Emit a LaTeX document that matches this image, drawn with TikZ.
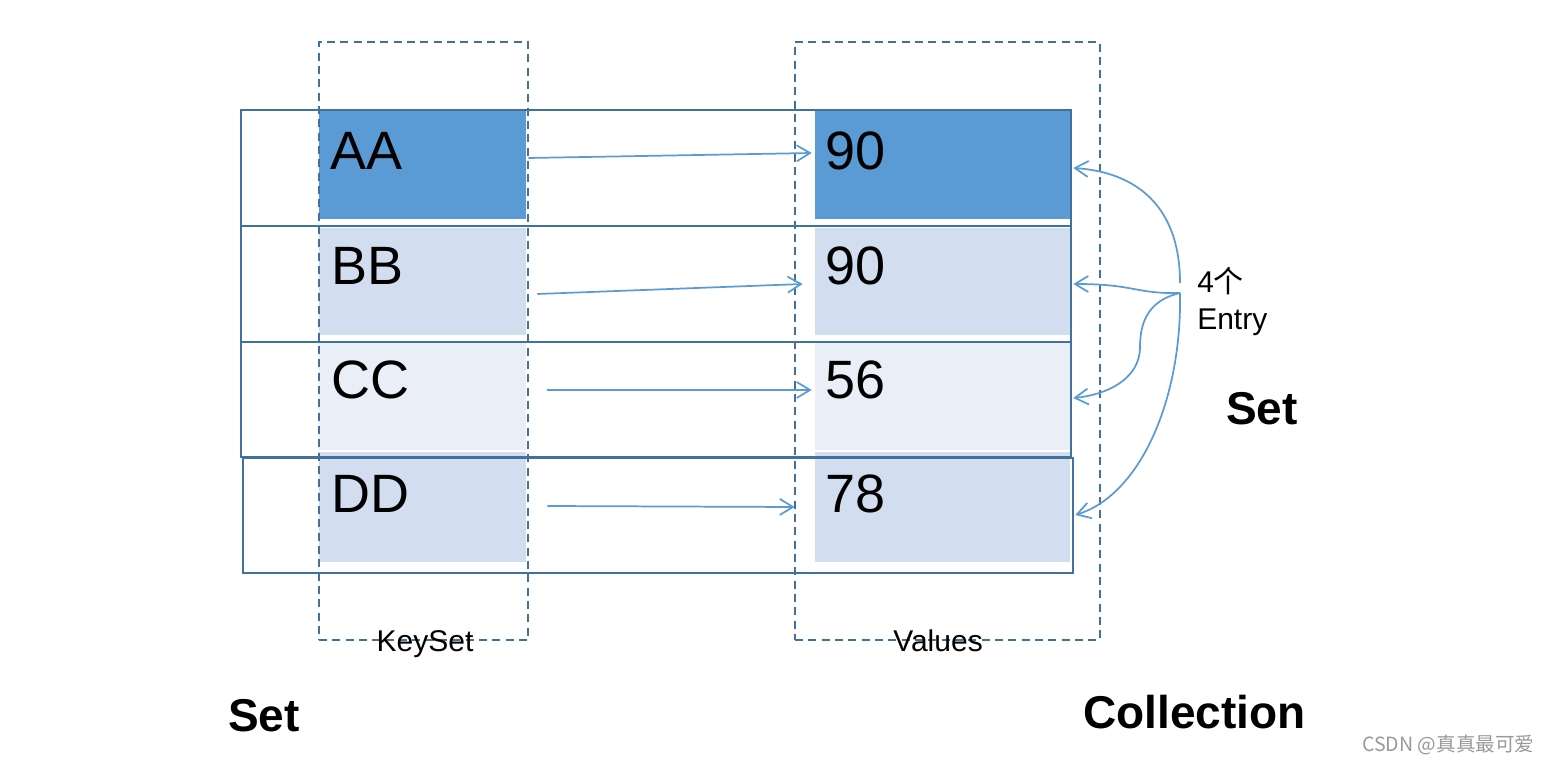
\documentclass[tikz,border=0pt]{standalone}
\usepackage{fontspec}
\setmainfont{Liberation Sans}
\newfontfamily\cjk{Noto Sans CJK SC}
\usetikzlibrary{arrows.meta, fit}
\definecolor{edgeblue}{HTML}{41719C}
\definecolor{darkfill}{HTML}{5B9BD5}
\definecolor{lightfill}{HTML}{D2DEEF}
\definecolor{paleblue}{HTML}{E9EEF7}
\definecolor{linkblue}{HTML}{5B9BD5}
\tikzstyle{cell} = [rectangle, inner sep=0pt, draw=none]
\tikzstyle{rowbox} = [rectangle, inner sep=0pt, draw=edgeblue, line width=1.5pt]
\tikzstyle{setbox} = [rectangle, inner sep=0pt, draw=edgeblue, line width=1.5pt, dash pattern=on 6pt off 4pt]
\tikzstyle{celltext} = [inner sep=0pt, anchor=base west, font=\fontsize{40.5pt}{48pt}\selectfont]
\tikzstyle{boxlabel} = [inner sep=0pt, anchor=base, font=\fontsize{22.5pt}{27pt}\selectfont]
\tikzstyle{bigtitle} = [inner sep=0pt, anchor=base west, font=\fontsize{34.5pt}{40pt}\selectfont\bfseries]
\tikzstyle{link} = [linkblue, line width=1.3pt, -{Straight Barb[length=10pt, width=12pt]}]

\begin{document}
\begin{tikzpicture}[x=0.75pt, y=-0.75pt]
\useasboundingbox (0,0) rectangle (1548,762);

\node (kAA) [cell, fill=darkfill, fit={(319,111) (526,219)}] {};
\node (kBB) [cell, fill=lightfill, fit={(319,228) (526,335)}] {};
\node (kCC) [cell, fill=paleblue, fit={(319,343) (526,450)}] {};
\node (kDD) [cell, fill=lightfill, fit={(319,452) (526,562)}] {};
\node (vAA) [cell, fill=darkfill, fit={(815,111) (1070,219)}] {};
\node (vBB) [cell, fill=lightfill, fit={(815,228) (1070,335)}] {};
\node (vCC) [cell, fill=paleblue, fit={(815,343) (1070,450)}] {};
\node (vDD) [cell, fill=lightfill, fit={(815,452) (1070,562)}] {};

\node (r1) [rowbox, fit={(241,110) (1071,226)}] {};
\node (r2) [rowbox, fit={(241,226) (1071,342)}] {};
\node (r3) [rowbox, fit={(241,342) (1071,457)}] {};
\node (r4) [rowbox, fit={(243,458) (1073,573)}] {};

\node (keyset) [setbox, fit={(319,42) (528,640)}] {};
\node (values) [setbox, fit={(795,42) (1100,640)}] {};

\node (tAA) [celltext] at (330,170) {AA};
\node (tBB) [celltext] at (331,285) {BB};
\node (tCC) [celltext] at (331,399) {CC};
\node (tDD) [celltext] at (331,512) {DD};
\node (tv1) [celltext] at (825,170) {90};
\node (tv2) [celltext] at (825,285) {90};
\node (tv3) [celltext] at (825,399) {56};
\node (tv4) [celltext] at (825,512) {78};

\node (lkeys) [boxlabel] at (425,651) {KeySet};
\node (lvals) [boxlabel] at (938,651) {Values};

\draw [link] ([shift={(2,-7)}]kAA.east) -- ([shift={(-3,-12)}]vAA.west);
\draw [link] ([shift={(11,12.5)}]kBB.east) -- ([shift={(-12,2.5)}]vBB.west);
\draw [link] ([shift={(21,-6.5)}]kCC.east) -- ([shift={(-3,-6.5)}]vCC.west);
\draw [link] ([shift={(21,-1)}]kDD.east) -- ([shift={(-20,0)}]vDD.west);

\coordinate (hub) at (1180,293);
\draw [link] ([shift={(0,-10)}]hub) .. controls (1180,205) and (1135,172) .. ([shift={(3,3)}]vAA.east);
\draw [link] (hub) .. controls (1135,294) and (1135,284) .. ([shift={(3,2.5)}]vBB.east);
\draw [link] (hub) .. controls (1150,300) and (1140,320) .. (1140,347) .. controls (1140,380) and (1105,395) .. ([shift={(3,1.5)}]vCC.east);
\draw [link] (hub) .. controls (1182,400) and (1140,495) .. ([shift={(5,8)}]vDD.east);

\node (four) [inner sep=0pt, anchor=base west, font=\fontsize{22.5pt}{27pt}\selectfont] at (1197,293) {4{\cjk 个}};
\node (entry) [inner sep=0pt, anchor=base west, font=\fontsize{22.5pt}{27pt}\selectfont] at (1197,330) {Entry};

\node (setr) [bigtitle] at (1226,425) {Set};
\node (setl) [bigtitle] at (228,731) {Set};
\node (coll) [bigtitle] at (1083,728) {Collection};

\node (mark) [inner sep=0pt, anchor=base west, text=black!40, font=\fontsize{14.7pt}{17pt}\cjk] at (1362,751) {CSDN @真真最可爱};
\end{tikzpicture}
\end{document}
